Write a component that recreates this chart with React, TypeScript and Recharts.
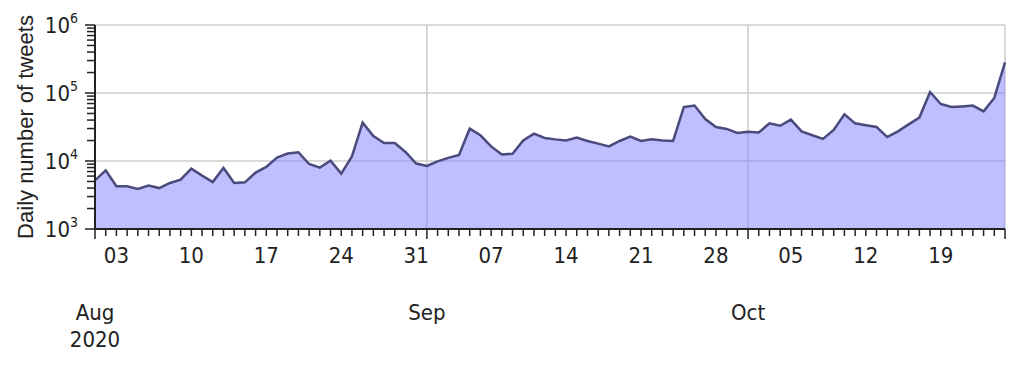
import { AreaChart, Area, XAxis, YAxis, CartesianGrid } from 'recharts';

// daily tweet counts, 1 Aug 2020 .. 25 Oct 2020
const tweets = [
  // Aug
  5200, 7300, 4250, 4250, 3870, 4350, 4000, 4750, 5320, 7730,
  6100, 4910, 7900, 4750, 4860, 6750, 8170, 11200, 12850, 13400,
  9040, 8000, 10100, 6520, 11700, 36700, 23300, 18400, 18400, 13600,
  9160,
  // Sep
  8440, 9900, 11100, 12300, 29900, 23900, 16400, 12500, 12800, 20100,
  25300, 21800, 20800, 20100, 22100, 19700, 18000, 16400, 19700, 22800,
  19700, 20800, 20100, 19700, 62200, 65300, 41500, 31600, 29600, 25800,
  // Oct
  27000, 26200, 35800, 33000, 40600, 27300, 23900, 21100, 28600, 48600,
  35800, 33500, 31600, 22500, 27300, 34600, 43500, 103500, 68900, 62200,
  63500, 65300, 53800, 84500, 282000,
];

const weekLabels = ['03', '10', '17', '24', '31', '07', '14', '21', '28', '05', '12', '19'];
const weekLabelDays = [2, 9, 16, 23, 30, 37, 44, 51, 58, 65, 72, 79];
const monthDays = [0, 31, 61];
const monthLabels = [['Aug', '2020'], ['Sep'], ['Oct']];

const yTicks = [
  1000, 2000, 3000, 4000, 5000, 6000, 7000, 8000, 9000,
  10000, 20000, 30000, 40000, 50000, 60000, 70000, 80000, 90000,
  100000, 200000, 300000, 400000, 500000, 600000, 700000, 800000, 900000,
  1000000,
];
const gridY = [10000, 100000, 1000000];

const data = tweets.map((v, i) => ({ day: i, tweets: v }));
const lastDay = tweets.length - 1;
const xTicks = data.map((d) => d.day);
const gridX = [31, 61, lastDay];

const tickFont = "'Liberation Sans Narrow', 'DejaVu Sans Condensed', 'Roboto', sans-serif";
const ink = '#222';

function XTick({ x, y, payload }: any) {
  const d = payload.value;
  const major = monthDays.includes(d) || d === lastDay;
  const wi = weekLabelDays.indexOf(d);
  const mi = monthDays.indexOf(d);
  return (
    <g>
      <line x1={x} x2={x} y1={y} y2={y + (major ? 10 : 7)} stroke={ink} strokeWidth={1.5} />
      {wi >= 0 && (
        <text x={x} y={y + 34} textAnchor="middle" fontSize={22} fontFamily={tickFont} fill={ink}>
          {weekLabels[wi]}
        </text>
      )}
      {mi >= 0 &&
        monthLabels[mi].map((s, k) => (
          <text key={k} x={x} y={y + 91 + k * 27} textAnchor="middle" fontSize={22} fontFamily={tickFont} fill={ink}>
            {s}
          </text>
        ))}
    </g>
  );
}

function YTick({ x, y, payload }: any) {
  const v = payload.value;
  const exp = Math.log10(v);
  const major = Math.abs(exp - Math.round(exp)) < 1e-9;
  return (
    <g>
      <line x1={x - (major ? 10 : 8)} x2={x} y1={y} y2={y} stroke={ink} strokeWidth={1.5} />
      {major && (
        <text x={x - 17} y={y + 8} textAnchor="end" fontSize={22} fontFamily={tickFont} fill={ink}>
          <tspan>10</tspan>
          <tspan dy={-10} fontSize={14}>{Math.round(exp)}</tspan>
        </text>
      )}
    </g>
  );
}

export default function App() {
  return (
    <AreaChart width={1004} height={350} data={data} margin={{ top: 17, right: 7, left: 7, bottom: 0 }}>
      <CartesianGrid
        horizontalValues={gridY}
        verticalValues={gridX}
        stroke="#cccccc"
        strokeWidth={1.5}
      />
      <XAxis
        dataKey="day"
        type="number"
        domain={[0, lastDay]}
        ticks={xTicks}
        interval={0}
        height={129}
        tickSize={0}
        tickMargin={0}
        tickLine={false}
        axisLine={{ stroke: ink, strokeWidth: 2 }}
        tick={<XTick />}
      />
      <YAxis
        type="number"
        scale="log"
        domain={[1000, 1000000]}
        allowDataOverflow
        ticks={yTicks}
        interval={0}
        width={80}
        tickSize={0}
        tickMargin={0}
        tickLine={false}
        axisLine={{ stroke: ink, strokeWidth: 2 }}
        tick={<YTick />}
        label={(props: any) => {
          const vb = props.viewBox;
          const cx = vb.x + 18;
          const cy = vb.y + vb.height / 2;
          return (
            <text
              x={cx}
              y={cy}
              transform={`rotate(-90, ${cx}, ${cy})`}
              textAnchor="middle"
              fontSize={22}
              fontFamily="'Liberation Sans', Arial, sans-serif"
              fill={ink}
            >
              Daily number of tweets
            </text>
          );
        }}
      />
      <Area
        type="linear"
        dataKey="tweets"
        baseValue={1000}
        stroke="#4a4a7c"
        strokeWidth={2.5}
        fill="#8080ff"
        fillOpacity={0.5}
        dot={false}
        activeDot={false}
        isAnimationActive={false}
      />
    </AreaChart>
  );
}
